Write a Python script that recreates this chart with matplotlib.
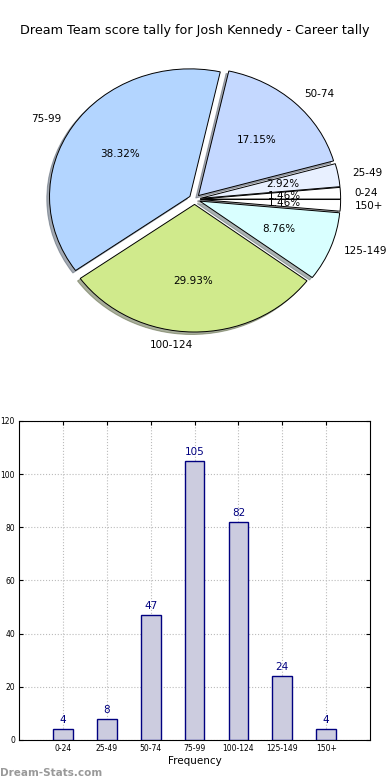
import numpy as np
import matplotlib
matplotlib.use('Agg')
import matplotlib.pyplot as plt

# score ranges and how often they happened
categorias = ['0-24', '25-49', '50-74', '75-99', '100-124', '125-149', '150+']
frequencias = [4, 8, 47, 105, 82, 24, 4]
cores_pie = ['#ffffff', '#e8f0ff', '#c4d8ff', '#b3d5ff', '#d0ea8c', '#d9ffff', '#ffffff']
titulo = 'Dream Team score tally for Josh Kennedy - Career tally'

fig = plt.figure(figsize=(3.9, 7.8), dpi=100)

# pizza em cima
ax1 = fig.add_axes([0.049, 0.54, 0.90, 0.409])
explodir = [0.04] * len(frequencias)
fatias, textos, autotextos = ax1.pie(frequencias, labels=categorias, colors=cores_pie,
                                     explode=explodir, autopct='%1.2f%%',
                                     shadow={'ox': -0.014, 'oy': -0.014, 'shade': 0.6},
                                     startangle=0,
                                     wedgeprops={'edgecolor': 'black', 'linewidth': 0.7},
                                     textprops={'fontsize': 7.5})
ax1.set_aspect('auto')
ax1.set_xlim(-1.25, 1.25)
ax1.set_ylim(-1.25, 1.25)
ax1.set_title(titulo, fontsize=9.2, pad=4)

# barras embaixo
ax2 = fig.add_axes([0.049, 0.0513, 0.90, 0.409])
x = np.arange(len(categorias))
barras = ax2.bar(x, frequencias, width=0.45, color='#ccccdf', edgecolor='navy', linewidth=1.0, zorder=3)
for xi, f in zip(x, frequencias):
    ax2.text(xi, f + 1.5, str(f), ha='center', va='bottom', color='navy', fontsize=7.5, zorder=4)
ax2.set_xlim(-1, 7)
ax2.set_ylim(0, 120)
ax2.set_xticks(x)
ax2.set_xticklabels(categorias)
ax2.set_yticks(range(0, 121, 20))
ax2.tick_params(labelsize=5.5, direction='in', top=True, right=True, length=3, pad=3)
ax2.grid(True, linestyle=':', color='#bbbbbb', linewidth=0.8, zorder=0)
ax2.set_xlabel('Frequency', fontsize=7.5, labelpad=2)

fig.text(0.0, 0.005, 'Dream-Stats.com', fontsize=7.5, color='#999999', fontweight='bold')

plt.savefig('out.png', dpi=100)
